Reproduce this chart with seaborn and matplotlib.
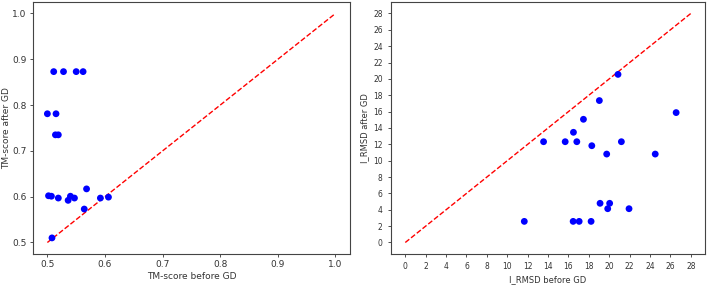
import numpy as np
import pandas as pd
import seaborn as sns
import matplotlib
matplotlib.use("Agg")
import matplotlib.pyplot as plt

# TM-score before / after GD
tm_before = [0.511, 0.528, 0.550, 0.562, 0.500, 0.515, 0.514, 0.519,
             0.502, 0.507, 0.519, 0.536, 0.540, 0.547, 0.564, 0.568,
             0.592, 0.606, 0.508]
tm_after = [0.873, 0.873, 0.873, 0.873, 0.781, 0.781, 0.735, 0.735,
            0.602, 0.601, 0.597, 0.592, 0.601, 0.597, 0.573, 0.617,
            0.597, 0.599, 0.510]

# I_RMSD before / after GD
rmsd_before = [11.67, 13.56, 15.68, 16.49, 16.82, 17.47, 18.29, 19.03,
               19.75, 20.86, 21.19, 24.51, 26.56, 16.46, 17.05, 18.22,
               19.10, 20.04, 19.85, 21.94]
rmsd_after = [2.58, 12.32, 12.32, 13.47, 12.32, 15.06, 11.83, 17.35,
              10.81, 20.55, 12.32, 10.81, 15.88, 2.58, 2.58, 2.58,
              4.79, 4.79, 4.13, 4.13]

tm_diag = [0.5, 1.0]
rmsd_diag = [0, 28]
rmsd_ticks = list(range(0, 29, 2))

sns.set_style("white")
plt.rcParams['font.family'] = ['DejaVu Sans']

fig = plt.figure(figsize=(7.09, 2.85), dpi=100)
ax1 = fig.add_axes([0.0465, 0.109, 0.447, 0.884])
ax2 = fig.add_axes([0.5515, 0.109, 0.443, 0.884])

df_tm = pd.DataFrame({'before': tm_before, 'after': tm_after})
df_rmsd = pd.DataFrame({'before': rmsd_before, 'after': rmsd_after})

# left panel
sns.scatterplot(data=df_tm, x='before', y='after', ax=ax1, color='blue',
                s=24, edgecolor='none', zorder=3)
ax1.plot(tm_diag, tm_diag, 'r--', lw=1.0, zorder=2)
ax1.set_xticks([0.5, 0.6, 0.7, 0.8, 0.9, 1.0])
ax1.set_yticks([0.5, 0.6, 0.7, 0.8, 0.9, 1.0])
ax1.set_xlim(0.475, 1.025)
ax1.set_ylim(0.475, 1.025)
ax1.set_xlabel('TM-score before GD', fontsize=6.5, color='#333333', labelpad=2)
ax1.set_ylabel('TM-score after GD', fontsize=6.5, color='#333333', labelpad=1)
ax1.tick_params(labelsize=6.5, colors='#333333', length=2.5, width=0.6,
                pad=2, bottom=True, left=True)

# right panel
sns.scatterplot(data=df_rmsd, x='before', y='after', ax=ax2, color='blue',
                s=24, edgecolor='none', zorder=3)
ax2.plot(rmsd_diag, rmsd_diag, 'r--', lw=1.0, zorder=2)
ax2.set_xticks(rmsd_ticks)
ax2.set_yticks(rmsd_ticks)
ax2.set_xlim(-1.4, 29.4)
ax2.set_ylim(-1.4, 29.4)
ax2.set_xlabel('I_RMSD before GD', fontsize=6, color='#333333', labelpad=3)
ax2.set_ylabel('I_RMSD after GD', fontsize=6, color='#333333', labelpad=3)
ax2.tick_params(labelsize=5.5, colors='#333333', length=2.5, width=0.6,
                bottom=True, left=True)

for ax in (ax1, ax2):
    for sp in ax.spines.values():
        sp.set_color('#444444')
        sp.set_linewidth(0.8)

fig.savefig('out.png', dpi=100)
